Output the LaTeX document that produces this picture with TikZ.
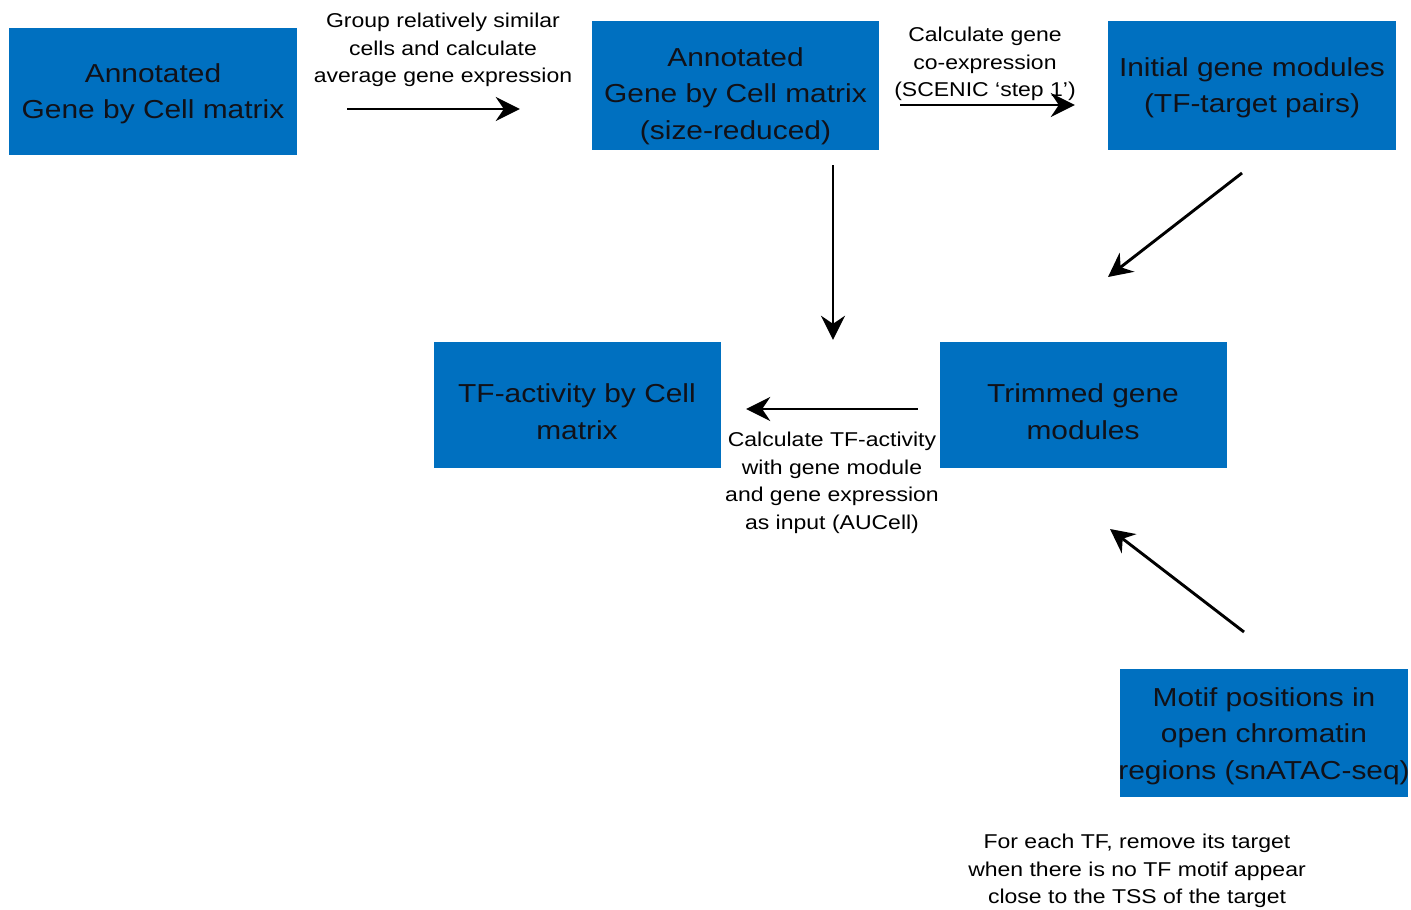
\documentclass[tikz,border=0pt]{standalone}
\usepackage{fontspec}
\setmainfont{Liberation Sans}[FakeStretch=1.15]
\usetikzlibrary{arrows.meta}
\definecolor{boxblue}{RGB}{0,112,192}
\definecolor{ink}{RGB}{17,17,24}
\tikzset{
  box/.style={rectangle, fill=boxblue, draw=none, inner sep=0pt},
  btxt/.style={align=center, text=ink, inner sep=0pt, font=\fontsize{26}{36.5}\selectfont},
  ltxt/.style={align=center, text=black, inner sep=0pt, font=\fontsize{20}{27.5}\selectfont},
  arr/.style={line width=2.9pt, -{Stealth[length=24pt,width=24pt,inset=8pt]}}
}
\begin{document}
\begin{tikzpicture}[x=1pt,y=-1pt]
\useasboundingbox (0,0) rectangle (1411,910);
% boxes
\node[box, minimum width=288pt, minimum height=127pt] (A) at (153,91.5) {};
\node[box, minimum width=287pt, minimum height=129pt] (B) at (735.5,85.5) {};
\node[box, minimum width=288pt, minimum height=129pt] (C) at (1252,85.5) {};
\node[box, minimum width=287pt, minimum height=126pt] (D) at (577.5,405) {};
\node[box, minimum width=287pt, minimum height=126pt] (E) at (1083.5,405) {};
\node[box, minimum width=288pt, minimum height=128pt] (F) at (1264,733) {};
% box texts
\node[btxt] (At) at (153,94) {Annotated\\Gene by Cell matrix};
\node[btxt] (Bt) at (735.5,96) {Annotated\\Gene by Cell matrix\\(size-reduced)};
\node[btxt] (Ct) at (1252,88) {Initial gene modules\\(TF-target pairs)};
\node[btxt] (Dt) at (577,411.5) {TF-activity by Cell\\matrix};
\node[btxt] (Et) at (1083,411.5) {Trimmed gene\\modules};
\node[btxt] (Ft) at (1264,736) {Motif positions in\\open chromatin\\regions (snATAC-seq)};
% labels
\node[ltxt] (L1) at (443,50) {Group relatively similar\\cells and calculate\\average gene expression};
\node[ltxt] (L2) at (985,64) {Calculate gene\\co-expression\\(SCENIC ‘step 1’)};
\node[ltxt] (L3) at (832,483) {Calculate TF-activity\\with gene module\\and gene expression\\as input (AUCell)};
\node[ltxt] (L4) at (1137,871) {For each TF, remove its target\\when there is no TF motif appear\\close to the TSS of the target};
% connector end points
\coordinate (c1) at (1242,173);
\coordinate (c2) at (1108,277);
\coordinate (f1) at (1244,632);
\coordinate (f2) at (1110,529);
% arrows
\draw[arr, shorten <=50pt, shorten >=72pt] (A.east |- 0,109) -- (B.west |- 0,109);
\draw[arr, shorten <=21pt, shorten >=33pt] (B.east |- 0,105) -- (C.west |- 0,105);
\draw[arr, shorten <=15pt, shorten >=2pt] (B.south -| 833,0) -- (D.north -| 833,0);
\draw[arr] (c1) -- (c2);
\draw[arr, shorten <=22pt, shorten >=25pt] (E.west |- 0,409) -- (D.east |- 0,409);
\draw[arr] (f1) -- (f2);
\end{tikzpicture}
\end{document}
